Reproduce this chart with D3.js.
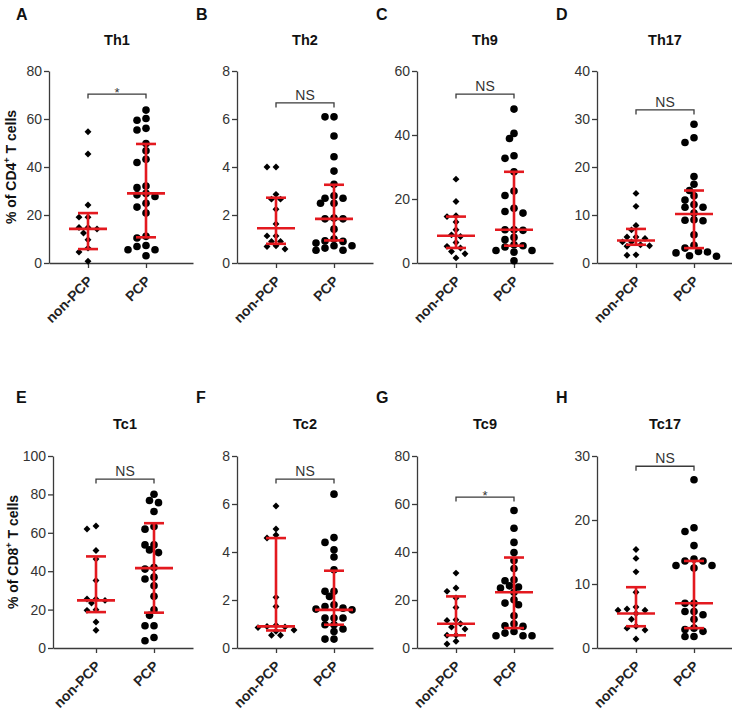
<!DOCTYPE html>
<html><head><meta charset="utf-8">
<script src="https://cdn.jsdelivr.net/npm/d3@7"></script>
<style>body{margin:0;background:#fff}</style>
</head><body>
<svg id="c" width="732" height="719"></svg>
<script>
// ---------------- DATA ----------------
const categories = ["non-PCP", "PCP"];
const panelLetters = ["A", "B", "C", "D", "E", "F", "G", "H"];
const panelTitles = ["Th1", "Th2", "Th9", "Th17", "Tc1", "Tc2", "Tc9", "Tc17"];
const yMax = [80, 8, 60, 40, 100, 8, 80, 30];
const yStep = [20, 2, 20, 10, 20, 2, 20, 10];
const sigLabels = ["*", "NS", "NS", "NS", "NS", "NS", "*", "NS"];
const sigLevel = [70.4, 6.67, 52.8, 31.9, 88, 7.04, 62.9, 28.4];
const yAxisLabels = ["CD4", "CD8"];

const th1NonPCP = [54.7, 45.4, 24.2, 19.1, 19.1, 14.8, 14.8, 14.2, 12.5, 9.7, 6.2, 4.6, 0.7];
const th1PCP = [63.7, 60.2, 59.5, 56.1, 55.4, 49.8, 46.8, 43.2, 41.9, 32.1, 31.4, 29.0, 28.4, 27.7, 24.9, 23.3, 20.8, 11.1, 10.4, 7.3, 6.9, 5.5, 5.5, 3.0];
const th2NonPCP = [4.0, 4.0, 2.86, 2.66, 2.66, 2.24, 1.63, 1.13, 1.13, 0.9, 0.9, 0.72, 0.69, 0.58];
const th2PCP = [6.09, 6.09, 5.29, 4.43, 3.83, 3.28, 2.80, 2.70, 2.70, 2.49, 2.49, 1.87, 1.84, 1.84, 1.41, 1.0, 0.92, 0.9, 0.83, 0.72, 0.72, 0.62, 0.53, 0.53];
const th9NonPCP = [26.2, 19.2, 14.8, 14.5, 12.8, 10.4, 8.8, 8.3, 6.4, 5.2, 4.7, 3.6, 2.9, 1.6];
const th9PCP = [48.1, 40.5, 38.9, 33.5, 32.7, 28.5, 22.5, 21.1, 17.1, 16.1, 15.6, 10.4, 10.4, 10.2, 8.0, 7.3, 5.7, 5.4, 5.0, 3.9, 3.9, 3.4, 0.7];
const th17NonPCP = [14.5, 11.8, 7.8, 6.9, 5.4, 5.4, 5.1, 4.4, 4.4, 3.8, 3.6, 3.5, 1.7, 1.6];
const th17PCP = [28.9, 26.1, 25.1, 18.0, 16.4, 15.1, 14.0, 13.1, 12.2, 11.6, 11.6, 10.4, 9.0, 8.9, 8.8, 5.9, 3.7, 3.1, 2.4, 2.3, 2.1, 1.5, 1.4];
const tc1NonPCP = [63.5, 62.0, 50.8, 46.3, 35.2, 25.5, 25.5, 24.8, 23.4, 19.9, 19.6, 13.5, 9.2];
const tc1PCP = [80.1, 76.8, 75.7, 71.1, 63.3, 61.9, 53.7, 53.7, 51.1, 49.7, 41.9, 41.1, 36.9, 35.9, 32.4, 26.9, 19.9, 17.0, 11.6, 11.6, 5.5, 3.8];
const tc2NonPCP = [5.92, 4.96, 4.71, 4.58, 2.11, 1.73, 0.95, 0.9, 0.88, 0.85, 0.75, 0.7, 0.53, 0.53];
const tc2PCP = [6.41, 4.60, 4.40, 4.09, 3.79, 3.26, 2.36, 2.36, 2.15, 1.80, 1.73, 1.66, 1.62, 1.59, 1.25, 1.25, 1.25, 0.97, 0.97, 0.79, 0.69, 0.37, 0.37];
const tc9NonPCP = [31.2, 25.0, 23.6, 20.8, 16.9, 11.8, 11.5, 10.1, 8.7, 7.9, 5.3, 5.3, 2.8, 1.7];
const tc9PCP = [57.3, 49.9, 44.0, 39.8, 36.5, 33.1, 28.4, 28.0, 25.9, 25.4, 25.0, 23.2, 20.1, 18.7, 18.0, 13.4, 10.1, 9.3, 9.0, 6.9, 6.2, 5.1, 5.1, 5.1];
const tc17NonPCP = [15.4, 14.0, 11.9, 8.7, 6.4, 6.1, 5.9, 5.9, 5.4, 4.5, 3.4, 3.1, 2.8, 1.4];
const tc17PCP = [26.3, 18.8, 18.2, 16.0, 13.9, 13.6, 13.6, 12.9, 12.9, 12.5, 7.0, 7.0, 5.7, 5.7, 5.2, 4.5, 3.1, 2.9, 2.6, 1.8, 1.8];

const nonPcpSeries = [th1NonPCP, th2NonPCP, th9NonPCP, th17NonPCP, tc1NonPCP, tc2NonPCP, tc9NonPCP, tc17NonPCP];
const pcpSeries = [th1PCP, th2PCP, th9PCP, th17PCP, tc1PCP, tc2PCP, tc9PCP, tc17PCP];

// median, 25th and 75th percentile per panel: [non-PCP, PCP]
const medians = [[14.2, 29.0], [1.45, 1.84], [8.5, 10.4], [4.7, 10.2], [24.8, 41.6], [0.90, 1.59], [10.1, 23.2], [5.4, 7.0]];
const q1 = [[5.8, 10.7], [0.80, 0.94], [4.7, 5.4], [3.8, 3.1], [18.7, 18.4], [0.73, 0.97], [5.3, 8.3], [3.4, 3.1]];
const q3 = [[20.8, 49.6], [2.72, 3.26], [14.5, 28.5], [7.1, 15.1], [47.7, 65.0], [4.58, 3.22], [21.5, 37.7], [9.5, 13.6]];

// ---------------- LAYOUT ----------------
const layout = [
  {ax: 49, end: 193, first: 39, row: 0},
  {ax: 237, end: 373, first: 39, row: 0},
  {ax: 417, end: 553, first: 39, row: 0},
  {ax: 597, end: 733, first: 39, row: 0},
  {ax: 53, end: 193, first: 43, row: 1},
  {ax: 237, end: 373, first: 39, row: 1},
  {ax: 417, end: 553, first: 39, row: 1},
  {ax: 597, end: 733, first: 39, row: 1}
];
const rows = [
  {top: 71, bot: 263, letterY: 20, titleY: 45, labelX: 16},
  {top: 456, bot: 648, letterY: 403, titleY: 429, labelX: 18}
];
const letterX = [16, 196, 376, 556];
const RED = "#e3191f";
const AX = "#3a3a3a";
const FONT = "'Liberation Sans', Arial, sans-serif";

const svg = d3.select("#c");

function swarm(values, y, cx, minDist, step) {
  const pts = values.map(v => ({v, y: y(v)})).sort((a, b) => a.y - b.y);
  const placed = [];
  for (const p of pts) {
    for (let k = 0; k < 40; k++) {
      const off = k === 0 ? 0 : (k % 2 ? -1 : 1) * Math.ceil(k / 2) * step;
      const x = cx + off;
      if (placed.every(q => (q.x - x) ** 2 + (q.y - p.y) ** 2 >= minDist * minDist)) { p.x = x; break; }
    }
    if (p.x === undefined) p.x = cx;
    placed.push(p);
  }
  return placed;
}

layout.forEach((L, i) => {
  const R = rows[L.row];
  const g = svg.append("g");
  const w = L.end - L.ax, step = 58;
  const x = d3.scalePoint().domain(categories).range([L.ax, L.end])
    .padding((w / step - 1) / 2).align(L.first / (w - step));
  const y = d3.scaleLinear().domain([0, yMax[i]]).range([R.bot, R.top]);
  const ticks = d3.range(0, yMax[i] + yStep[i] / 2, yStep[i]);

  // y axis
  const ya = g.append("g").attr("transform", `translate(${L.ax},0)`)
    .call(d3.axisLeft(y).tickValues(ticks).tickSize(5).tickPadding(2).tickSizeOuter(0).tickFormat(d3.format("d")));
  ya.selectAll("path,line").attr("stroke", AX).attr("stroke-width", 1.3);
  ya.selectAll("text").attr("fill", "#333").style("font", `14px ${FONT}`);

  // x axis
  const xa = g.append("g").attr("transform", `translate(0,${R.bot})`)
    .call(d3.axisBottom(x).tickSize(5).tickSizeOuter(0));
  xa.selectAll("path,line").attr("stroke", AX).attr("stroke-width", 1.3);
  xa.selectAll("text").attr("x", 0).attr("y", 0).attr("dy", 0)
    .attr("transform", "translate(5,19) rotate(-45)").attr("text-anchor", "end")
    .attr("fill", "#222").style("font", `bold 14px ${FONT}`);

  // points
  const nonPts = swarm(nonPcpSeries[i], y, x(categories[0]), 6.0, 4.5);
  const pcpPts = swarm(pcpSeries[i], y, x(categories[1]), 6.6, 4.5);
  g.selectAll(".dia").data(nonPts).enter().append("path")
    .attr("d", d3.symbol(d3.symbolSquare, 24)())
    .attr("transform", d => `translate(${d.x},${d.y}) rotate(45)`)
    .attr("fill", "#000");
  g.selectAll(".dot").data(pcpPts).enter().append("circle")
    .attr("cx", d => d.x).attr("cy", d => d.y).attr("r", 3.8).attr("fill", "#000");

  // median + IQR
  categories.forEach((c, j) => {
    const cx = x(c);
    const eg = g.append("g").attr("stroke", RED).attr("stroke-width", 2.6).attr("fill", "none");
    eg.append("line").attr("x1", cx).attr("x2", cx).attr("y1", y(q1[i][j])).attr("y2", y(q3[i][j]));
    eg.append("line").attr("x1", cx - 19).attr("x2", cx + 19).attr("y1", y(medians[i][j])).attr("y2", y(medians[i][j]));
    [q1[i][j], q3[i][j]].forEach(v => eg.append("line").attr("x1", cx - 10).attr("x2", cx + 10).attr("y1", y(v)).attr("y2", y(v)));
  });

  // significance bracket
  const by = y(sigLevel[i]);
  const x0 = x(categories[0]), x1 = x(categories[1]);
  g.append("path").attr("d", `M${x0},${by + 4.5}V${by}H${x1}V${by + 4.5}`)
    .attr("fill", "none").attr("stroke", AX).attr("stroke-width", 1.3);
  g.append("text").attr("x", (x0 + x1) / 2).attr("y", sigLabels[i] === "*" ? by + 2.5 : by - 3)
    .attr("text-anchor", "middle").attr("fill", "#333")
    .style("font", `${sigLabels[i] === "*" ? 13 : 14}px ${FONT}`).text(sigLabels[i]);

  // title
  g.append("text").attr("x", (x0 + x1) / 2).attr("y", R.titleY).attr("text-anchor", "middle")
    .attr("fill", "#111").style("font", `bold 14.5px ${FONT}`).text(panelTitles[i]);
  // letter
  g.append("text").attr("x", letterX[i % 4]).attr("y", R.letterY)
    .attr("fill", "#111").style("font", `bold 16px ${FONT}`).text(panelLetters[i]);

  // y axis label on first panel of the row
  if (i % 4 === 0) {
    const t = g.append("text").attr("transform", `translate(${R.labelX},${(R.top + R.bot) / 2}) rotate(-90)`)
      .attr("text-anchor", "middle").attr("fill", "#111").style("font", `bold 14px ${FONT}`);
    t.append("tspan").text("% of " + yAxisLabels[L.row]);
    t.append("tspan").attr("dy", -6).style("font-size", "9px").text("+");
    t.append("tspan").attr("dy", 6).text(" T cells");
  }
});
</script>
</body></html>
